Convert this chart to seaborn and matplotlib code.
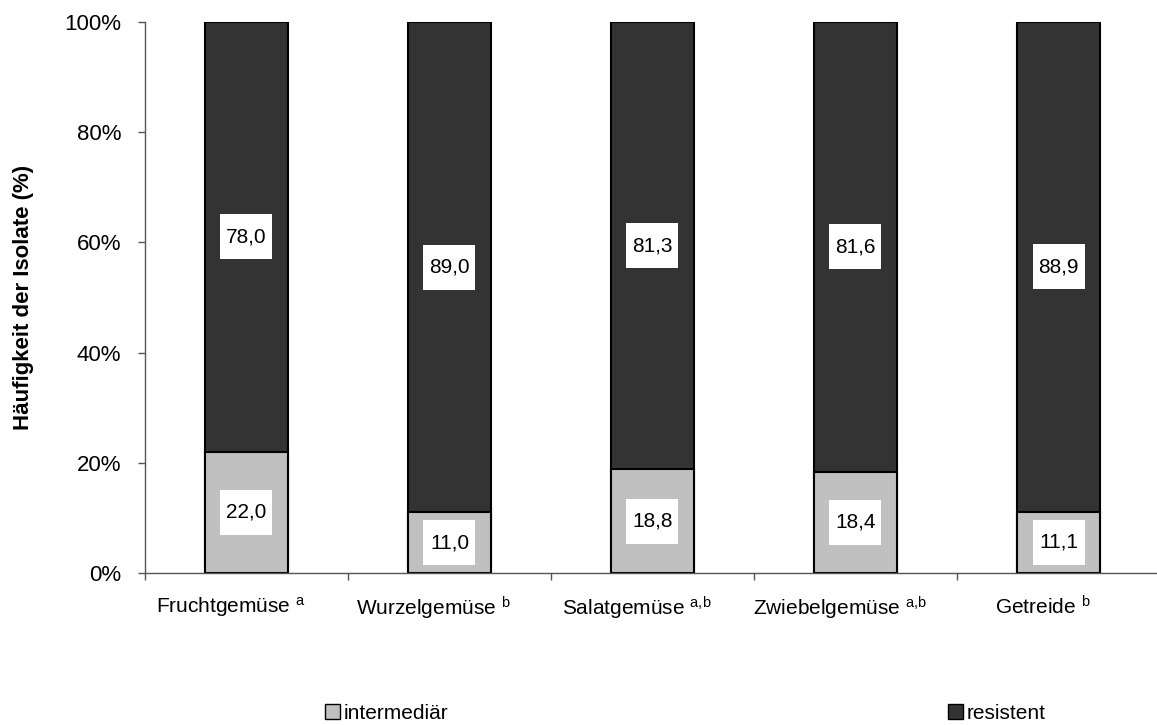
import matplotlib
matplotlib.use("Agg")
import matplotlib.pyplot as plt
from matplotlib.patches import Patch, Rectangle
from matplotlib.ticker import FuncFormatter, FixedLocator
import numpy as np
import pandas as pd
import seaborn as sns

categories = ["Fruchtgemüse", "Wurzelgemüse", "Salatgemüse", "Zwiebelgemüse", "Getreide"]
superscripts = ["a", "b", "a{,}b", "a{,}b", "b"]
intermediaer = [22.0, 11.0, 18.8, 18.4, 11.1]
resistent = [78.0, 89.0, 81.3, 81.6, 88.9]
series_names = ["intermediär", "resistent"]

sns.set_theme(style="white")
plt.rcParams["font.family"] = ["Liberation Sans", "DejaVu Sans"]
plt.rcParams["mathtext.fontset"] = "custom"
plt.rcParams["mathtext.rm"] = "Liberation Sans"
plt.rcParams["mathtext.it"] = "Liberation Sans"
plt.rcParams["text.color"] = "black"
plt.rcParams["axes.labelcolor"] = "black"
plt.rcParams["xtick.color"] = "black"
plt.rcParams["ytick.color"] = "black"

c_int = "#c0c0c0"
c_res = "#333333"
axis_grey = "#555555"

inter = np.array(intermediaer)
res = np.array(resistent)
total = inter + res
# 100 % stacked: share of each category
inter_pct = inter / total * 100
top_pct = np.full_like(total, 100.0)

df = pd.DataFrame({"kategorie": categories, "inter": inter_pct, "top": top_pct})

fig = plt.figure(figsize=(11.57, 7.25), dpi=100)
ax = fig.add_axes([0.1253, 0.2097, 0.8773, 0.7600])

sns.barplot(data=df, x="kategorie", y="top", color=c_res, width=0.41,
            edgecolor="black", linewidth=1.5, saturation=1, ax=ax)
sns.barplot(data=df, x="kategorie", y="inter", color=c_int, width=0.41,
            edgecolor="black", linewidth=1.5, saturation=1, ax=ax)

ax.set_xlim(-0.5, 4.5)
ax.set_ylim(0, 100)

# white value boxes in the middle of each segment (size given in pixels)
box_w_px, box_h_px = 52, 45
x0, y0 = ax.transData.transform((0, 0))
x1, y1 = ax.transData.transform((1, 1))
px_per_cat = x1 - x0
box_w = box_w_px / px_per_cat
box_h = box_h_px / (y1 - y0)


def value_box(xc, yc, txt):
    ax.add_patch(Rectangle((xc - box_w / 2, yc - box_h / 2), box_w, box_h,
                           facecolor="white", edgecolor="none", zorder=5))
    ax.text(xc, yc, txt, ha="center", va="center", fontsize=15, zorder=6)


for i in range(len(categories)):
    value_box(i, inter_pct[i] / 2, f"{intermediaer[i]:.1f}".replace(".", ","))
    value_box(i, inter_pct[i] + (100 - inter_pct[i]) / 2,
              f"{resistent[i]:.1f}".replace(".", ","))

ax.set_yticks(np.arange(0, 101, 20))
ax.yaxis.set_major_formatter(FuncFormatter(lambda v, p: f"{v:.0f}%"))
ax.tick_params(axis="y", which="major", left=True, length=5, width=1, color=axis_grey,
               pad=12, labelsize=16, direction="out")

# category labels sit slightly left of the bar centres
label_offset = 16 / px_per_cat
ax.set_xticks(np.arange(len(categories)) - label_offset)
ax.set_xticklabels([f"{c} $^{{\\mathrm{{{s}}}}}$" for c, s in zip(categories, superscripts)],
                   fontsize=15)
ax.xaxis.set_minor_locator(FixedLocator(np.arange(-0.5, 5.0, 1.0)))
ax.tick_params(axis="x", which="major", bottom=True, length=0, pad=16)
ax.tick_params(axis="x", which="minor", bottom=True, length=5, width=1, color=axis_grey,
               direction="out")

ax.set_xlabel("")
ax.set_ylabel("Häufigkeit der Isolate (%)", fontsize=16, fontweight="bold", labelpad=22)

for side in ["top", "right"]:
    ax.spines[side].set_visible(False)
for side in ["left", "bottom"]:
    ax.spines[side].set_color(axis_grey)
    ax.spines[side].set_linewidth(1)

handles = [Patch(facecolor=c_int, edgecolor="black", linewidth=1),
           Patch(facecolor=c_res, edgecolor="black", linewidth=1)]
fig.legend(handles, series_names, loc="center", bbox_to_anchor=(0.5925, 0.016), ncol=2,
           frameon=False, fontsize=15, handlelength=0.7, handleheight=0.7,
           handletextpad=0.2, columnspacing=24.0, borderpad=0)

fig.savefig("out.png", dpi=100)
